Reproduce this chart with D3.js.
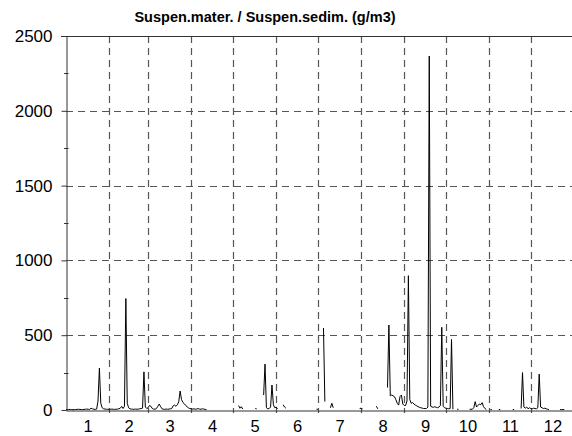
<!DOCTYPE html>
<html><head><meta charset="utf-8">
<script src="https://cdn.jsdelivr.net/npm/d3@7"></script>
<style>body{margin:0;background:#fff}svg{display:block}</style>
</head><body>
<script>
const title = "Suspen.mater. / Suspen.sedim. (g/m3)";
const monthLabels = ["1","2","3","4","5","6","7","8","9","10","11","12"];
const yTicks = [0, 500, 1000, 1500, 2000, 2500];
const yMinorTicks = [250, 750, 1250, 1750, 2250];
const yGrid = [500, 1000, 1500, 2000];
// first day (offset from 1 January) of each measured stretch
const segStarts = [0, 124, 136, 142, 156, 180, 185, 190, 211, 223, 231, 281, 290, 305, 311, 321, 327, 355];
// daily values (g/m3) of each stretch
const segValues = [
  [3,2,3,4,3,2,3,3,4,5,4,3,3,4,5,6,5,4,
   12,8,5,4,6,60,280,45,15,8,
   6,5,5,4,5,6,5,4,5,6,8,
   12,24,10,25,745,45,15,8,
   6,5,5,6,5,6,8,10,12,
   255,20,10,
   15,30,25,10,6,5,10,25,40,22,8,
   5,5,6,5,6,8,10,
   28,33,25,35,55,127,70,50,42,30,22,14,
   10,8,6,8,5,7,9,6,5,8,6,4,3],
  [30,12,22,6],
  [10,8],
  [100,307,15,8,10,20,167,35,15,20,8],
  [35,20,12],
  [5,5],
  [548,56],
  [15,45,15],
  [10,12,8],
  [25,8],
  [150,568,95,100,95,89,70,45,33,90,100,40,30,30,60,898,70,45,50,40,33,28,22,18,15,12,10,10,10,20,2366,25,20,18,22,18,15,20,30,553,25,15,12,10,8,10,472,5],
  [5,5],
  [5,5,5,15,56,20,30,40,35,49,22,10,3],
  [3,3],
  [3,3],
  [3,3],
  [10,250,20,12,20,8,15,10,8,12,10,8,15,240,20,15,10,12,8,5,3],
  [3,3,3,3]
];

const W = 572, H = 436;
const yr = 2001;
const x = d3.scaleTime().domain([new Date(yr,0,1), new Date(yr+1,0,1)]).range([66, 574]);
const y = d3.scaleLinear().domain([0, 2500]).range([410, 36]);

const svg = d3.select("body").append("svg").attr("width", W).attr("height", H)
  .style("font-family", "'Liberation Sans', Arial, Helvetica, sans-serif");

const monthStarts = d3.range(1, 12).map(m => new Date(yr, m, 1));
const monthMids = d3.range(12).map(m => new Date((new Date(yr, m, 1).getTime() + new Date(yr, m+1, 1).getTime()) / 2));

const gridColor = "#555";
// vertical dashed grid
svg.append("g").selectAll("line").data(monthStarts).join("line")
  .attr("x1", d => Math.round(x(d)) + 0.5).attr("x2", d => Math.round(x(d)) + 0.5)
  .attr("y1", y(2500)).attr("y2", y(0) + 3)
  .attr("stroke", gridColor).attr("stroke-width", 1.2).attr("stroke-dasharray", "7,5");
// horizontal dashed grid
svg.append("g").selectAll("line").data(yGrid).join("line")
  .attr("x1", x.range()[0]).attr("x2", x.range()[1])
  .attr("y1", d => Math.round(y(d)) + 0.5).attr("y2", d => Math.round(y(d)) + 0.5)
  .attr("stroke", gridColor).attr("stroke-width", 1.2).attr("stroke-dasharray", "7,5");

// top frame line
svg.append("line").attr("x1", 61).attr("x2", x.range()[1])
  .attr("y1", Math.round(y(2500)) + 0.5).attr("y2", Math.round(y(2500)) + 0.5)
  .attr("stroke", "#333").attr("stroke-width", 1);

// y axis
const yAxis = svg.append("g").attr("transform", `translate(${x.range()[0] + 0.5},0)`)
  .call(d3.axisLeft(y).tickValues(yTicks).tickSize(5).tickSizeOuter(0).tickPadding(9).tickFormat(d3.format("d")));
yAxis.selectAll("text").attr("font-size", 17).attr("fill", "#000").style("font-family", "'Liberation Sans', Arial, sans-serif");
yAxis.selectAll("line, path").attr("stroke", "#333");
svg.append("g").selectAll("line").data(yMinorTicks).join("line")
  .attr("x1", x.range()[0] - 2).attr("x2", x.range()[0] + 2.5)
  .attr("y1", d => Math.round(y(d)) + 0.5).attr("y2", d => Math.round(y(d)) + 0.5)
  .attr("stroke", "#333");

// x axis
const xAxis = svg.append("g").attr("transform", `translate(0,${Math.round(y(0)) + 0.5})`)
  .call(d3.axisBottom(x).tickValues(monthMids).tickSize(0).tickSizeOuter(0)
    .tickFormat((d, i) => monthLabels[i]));
xAxis.selectAll("text").attr("font-size", 16.5).attr("fill", "#000")
  .attr("y", 21.5).attr("dy", null)
  .style("font-family", "'Liberation Sans', Arial, sans-serif");
xAxis.select("path").attr("stroke", "#333");

// data line
const pts = [];
segStarts.forEach((s, i) => {
  segValues[i].forEach((v, j) => pts.push({date: new Date(yr, 0, 1 + s + j), v}));
  pts.push({date: null, v: null});
});
const line = d3.line().defined(d => d.v !== null).x(d => x(d.date)).y(d => y(d.v));
svg.append("path").datum(pts).attr("d", line)
  .attr("fill", "none").attr("stroke", "#000").attr("stroke-width", 1).attr("stroke-linejoin", "round");

// title
svg.append("text").attr("x", 265).attr("y", 22).attr("text-anchor", "middle")
  .attr("font-size", 14.5).attr("font-weight", "bold").text(title);
</script>
</body></html>
